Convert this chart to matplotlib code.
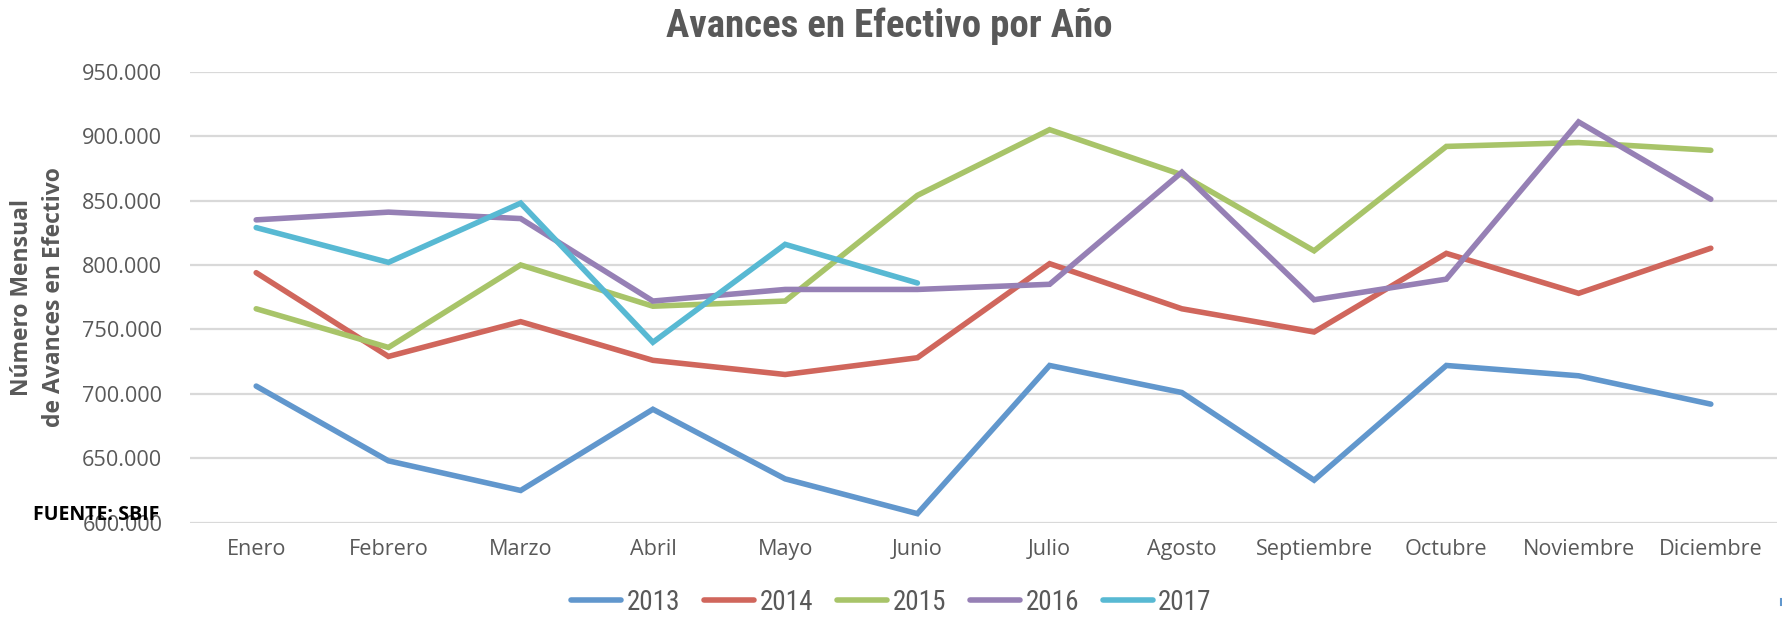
import matplotlib
matplotlib.use("Agg")
import matplotlib.pyplot as plt
from matplotlib.ticker import FuncFormatter
from matplotlib.lines import Line2D

# datos (miles)
meses = ["Enero", "Febrero", "Marzo", "Abril", "Mayo", "Junio", "Julio",
         "Agosto", "Septiembre", "Octubre", "Noviembre", "Diciembre"]
v2013 = [706, 648, 625, 688, 634, 607, 722, 701, 633, 722, 714, 692]
v2014 = [794, 729, 756, 726, 715, 728, 801, 766, 748, 809, 778, 813]
v2015 = [766, 736, 800, 768, 772, 854, 905, 870, 811, 892, 895, 889]
v2016 = [835, 841, 836, 772, 781, 781, 785, 872, 773, 789, 911, 851]
v2017 = [829, 802, 848, 740, 816, 786]
anios = ["2013", "2014", "2015", "2016", "2017"]
series = [v2013, v2014, v2015, v2016, v2017]
colores = ["#6197CD", "#D0665C", "#A8C469", "#9680B5", "#58B9D3"]

gris = "#595959"
narrow = ["Roboto Condensed", "Roboto", "DejaVu Sans"]
plt.rcParams["font.family"] = ["Open Sans", "DejaVu Sans"]

fig = plt.figure(figsize=(17.83, 6.19), dpi=100)
ax = fig.add_axes([0.1066, 0.1556, 0.890, 0.7286])

for anio, vals, c in zip(anios, series, colores):
    ax.plot(range(len(vals)), [v * 1000 for v in vals], color=c, lw=4.0,
            label=anio, solid_capstyle="round", solid_joinstyle="miter")

ax.set_xlim(-0.5, 11.5)
ax.set_ylim(600000, 950000)
ax.set_yticks(range(600000, 950001, 50000))
ax.yaxis.set_major_formatter(FuncFormatter(lambda v, p: f"{v:,.0f}".replace(",", ".")))
ax.set_xticks(range(len(meses)))
ax.set_xticklabels(meses)
ax.grid(axis="y", color="#D9D9D9", lw=1.6)
ax.set_axisbelow(True)
for s in ax.spines.values():
    s.set_visible(False)
ax.tick_params(axis="y", length=0, pad=20, labelsize=15.6, labelcolor=gris)
ax.tick_params(axis="x", length=0, pad=12, labelsize=15.6, labelcolor=gris)

fig.text(0.499, 0.957, "Avances en Efectivo por Año", ha="center", va="center",
         fontsize=28, fontweight="bold", color=gris, family=narrow,
         fontstretch="condensed")
fig.text(0.0213, 0.52, "Número Mensual\nde Avances en Efectivo", rotation=90,
         ha="center", va="center", multialignment="center",
         fontsize=16.5, fontweight="bold", color=gris, linespacing=1.45)
fig.text(0.0185, 0.168, "FUENTE: SBIF", ha="left", va="center",
         fontsize=14, fontweight="bold", color="black")

leg = fig.legend(loc="center", bbox_to_anchor=(0.5, 0.027), ncol=5,
                 frameon=False, handlelength=1.85, handletextpad=0.2,
                 columnspacing=0.88, borderpad=0.1,
                 prop={"family": narrow, "size": 19.5, "stretch": "condensed"})
for t in leg.get_texts():
    t.set_color(gris)

# pequena marca azul en la esquina inferior derecha
fig.add_artist(Line2D([0.9988, 0.9988], [0.022, 0.032], color=colores[0],
                      lw=1.5, transform=fig.transFigure))

fig.savefig("out.png", dpi=100, facecolor="white")
